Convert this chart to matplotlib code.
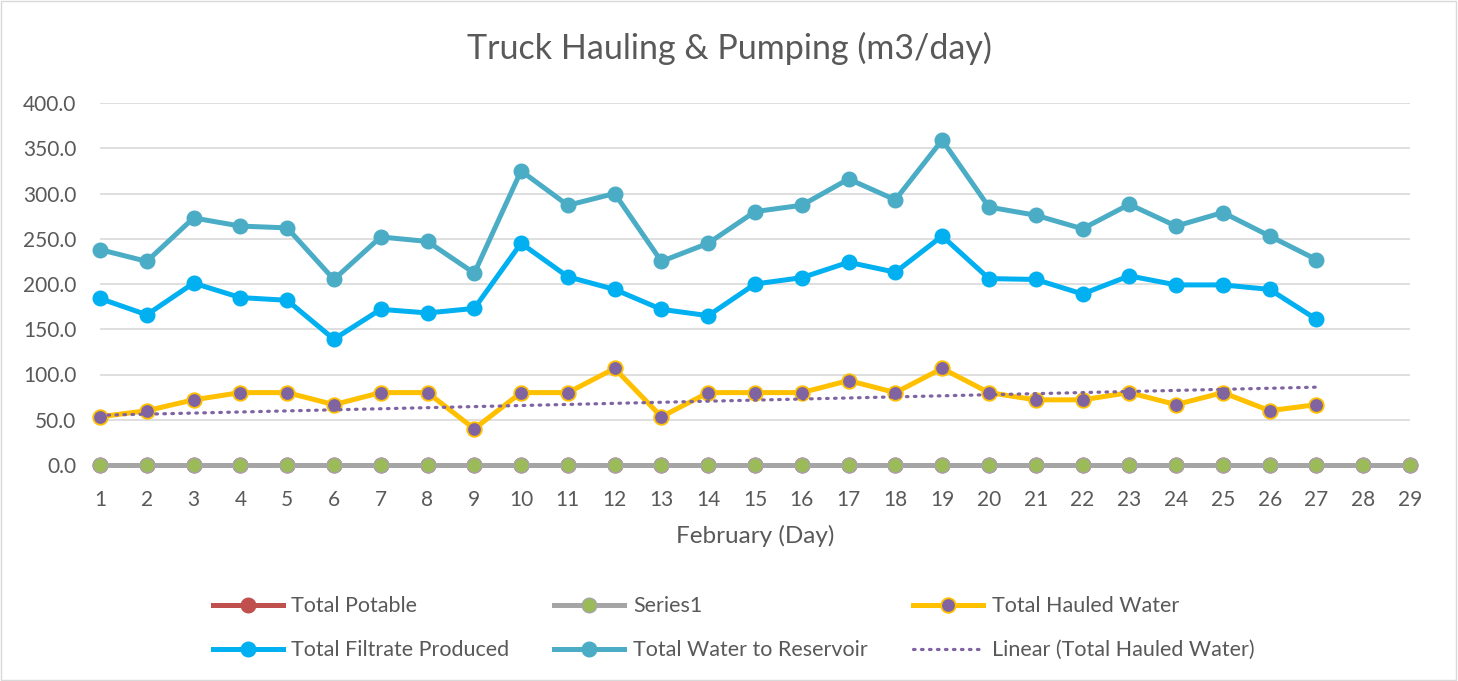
import numpy as np
import matplotlib.pyplot as plt
from matplotlib.patches import Rectangle

plt.rcParams['font.family'] = ['Lato', 'DejaVu Sans']

# data
days = list(range(1, 30))
days_data = list(range(1, 28))
total_potable = [0.0] * 29
series1 = [0.0] * 29
hauled = [53.3, 60.0, 72.0, 80.0, 80.0, 66.7, 80.0, 80.0, 40.0, 80.0,
          80.0, 106.7, 53.3, 80.0, 80.0, 80.0, 93.3, 80.0, 106.7, 80.0,
          72.0, 72.0, 80.0, 66.7, 80.0, 60.0, 66.7]
filtrate = [184, 166, 201, 185, 182, 139, 172, 168, 173, 245,
            208, 194, 172, 165, 200, 207, 224, 213, 253, 206,
            205, 189, 209, 199, 199, 194, 161]
reservoir = [238, 225, 273, 264, 262, 205, 252, 247, 212, 325,
             287, 300, 225, 245, 280, 287, 316, 293, 359, 285,
             276, 261, 288, 264, 279, 253, 227]
# Excel linear trendline endpoints (as drawn)
trend_days = [1, 27]
trend_vals = [55.0, 86.0]

text_col = '#595959'

fig = plt.figure(figsize=(14.58, 6.81), dpi=100)
fig.patches.append(Rectangle((0.0005, 0.001), 0.998, 0.997, transform=fig.transFigure,
                             fill=False, edgecolor='#d9d9d9', linewidth=1))
ax = fig.add_axes([100 / 1458, 216 / 681, 1310 / 1458, 362 / 681])

lw = 3.6
ms = 10.5
p_pot, = ax.plot(days, total_potable, color='#c0504d', lw=lw, marker='o', ms=ms,
                 label='Total Potable', clip_on=False, zorder=3)
p_s1, = ax.plot(days, series1, color='#a5a5a5', lw=lw, marker='o', ms=ms,
                mfc='#9bbb59', mec='#a5a5a5', mew=1.0, label='Series1',
                clip_on=False, zorder=4)
p_haul, = ax.plot(days_data, hauled, color='#ffc000', lw=lw, marker='o', ms=ms,
                  mfc='#8064a2', mec='#ffc000', mew=1.3, label='Total Hauled Water',
                  clip_on=False, zorder=5)
p_filt, = ax.plot(days_data, filtrate, color='#00b0f0', lw=lw, marker='o', ms=ms,
                  label='Total Filtrate Produced', clip_on=False, zorder=5)
p_res, = ax.plot(days_data, reservoir, color='#4bacc6', lw=lw, marker='o', ms=ms,
                 label='Total Water to Reservoir', clip_on=False, zorder=5)
p_lin, = ax.plot(trend_days, trend_vals, color='#8064a2', lw=2.3,
                 linestyle=(0, (0.5, 2.0)), dash_capstyle='round',
                 label='Linear (Total Hauled Water)', zorder=6)

ax.set_xlim(1, 29)
ax.set_ylim(0, 400)
ax.set_xticks(days)
ax.set_yticks(np.arange(0, 401, 50))
ax.yaxis.set_major_formatter(plt.FuncFormatter(lambda v, p: f'{v:.1f}'))
ax.grid(axis='y', color='#d9d9d9', lw=1.2)
ax.set_axisbelow(True)
for s in ax.spines.values():
    s.set_visible(False)
ax.tick_params(length=0, labelsize=15, colors=text_col)
ax.tick_params(axis='x', pad=18)
ax.tick_params(axis='y', pad=17)
ax.set_xlabel('February (Day)', fontsize=17.5, color=text_col, labelpad=11)
fig.text(0.5, 1 - 48 / 681, 'Truck Hauling & Pumping (m3/day)', fontsize=24.5,
         color=text_col, ha='center', va='center')

handles = [p_pot, p_filt, p_s1, p_res, p_haul, p_lin]
fig.legend(handles=handles, labels=[h.get_label() for h in handles], ncol=3,
           loc='center', bbox_to_anchor=(0.503, 0.0775), frameon=False,
           fontsize=15.5, labelcolor=text_col, handlelength=3.25,
           columnspacing=2.1, labelspacing=1.12, handletextpad=0.4)

fig.savefig('out.png', dpi=100)
